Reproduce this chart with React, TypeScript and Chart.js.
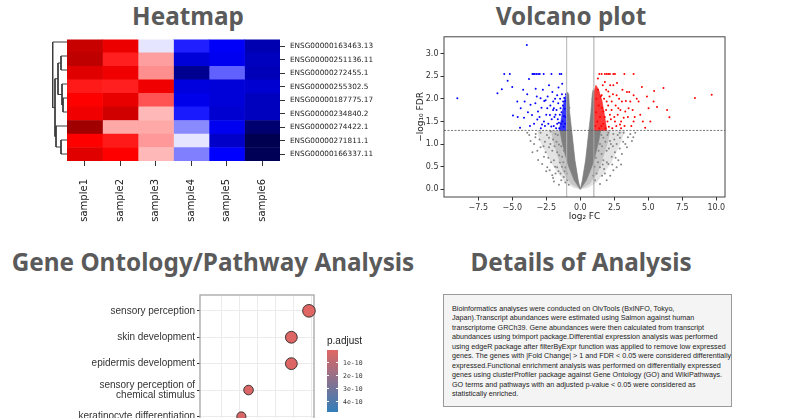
import React, { useEffect, useRef } from "react";
import { Chart, registerables } from "chart.js";
Chart.register(...registerables);

// ---------------- Heatmap data ----------------
const samples = ["sample1", "sample2", "sample3", "sample4", "sample5", "sample6"];
const genes = [
  "ENSG00000163463.13",
  "ENSG00000251136.11",
  "ENSG00000272455.1",
  "ENSG00000255302.5",
  "ENSG00000187775.17",
  "ENSG00000234840.2",
  "ENSG00000274422.1",
  "ENSG00000271811.1",
  "ENSG00000166337.11",
];
const heatValues = [
  [0.72, 0.57, -0.05, -0.44, -0.52, -0.72],
  [0.75, 0.44, 0.19, -0.61, -0.54, -0.68],
  [0.62, 0.56, 0.22, -0.81, -0.31, -0.7],
  [0.45, 0.44, 0.56, -0.59, -0.61, -0.63],
  [0.5, 0.59, 0.34, -0.56, -0.61, -0.68],
  [0.56, 0.68, 0.14, -0.45, -0.63, -0.68],
  [0.87, 0.17, 0.17, -0.23, -0.54, -0.9],
  [0.5, 0.45, 0.2, -0.05, -0.65, -0.99],
  [0.62, 0.5, 0.14, -0.25, -0.5, -0.97],
];
// dendrogram linkage: [childA, childB, height]; leaves 0..8, merges numbered from 9
const linkage = [
  [7, 8, 6],
  [4, 5, 4],
  [1, 2, 6],
  [3, 10, 5],
  [11, 12, 9],
  [6, 9, 11],
  [13, 14, 12],
  [0, 15, 14.3],
];

// ---------------- Volcano data ----------------
const volcanoXTicks = [-7.5, -5, -2.5, 0, 2.5, 5, 7.5, 10];
const volcanoYTicks = [0, 0.5, 1, 1.5, 2, 2.5, 3];
const fcThreshold = 1;
const fdrThreshold = 1.301;
const volcanoGrayCoreLeft = [
  [0, 0], [-0.45, 0.2], [-0.85, 0.5], [-1.1, 0.75], [-1.35, 1.05], [-1.5, 1.3], [-1.0, 1.3], [-1.0, 2.05],
  [-0.95, 2.15], [-0.85, 2.1], [-0.78, 1.7], [-0.63, 1.3], [-0.39, 0.64], [-0.15, 0.2], [0, 0],
];
const volcanoGrayCoreRight = [
  [0, 0], [0.15, 0.2], [0.39, 0.64], [0.63, 1.3], [0.78, 1.7], [0.88, 2.1], [0.95, 2.2], [1.0, 2.1],
  [1.0, 1.3], [1.5, 1.3], [1.35, 1.05], [1.1, 0.75], [0.85, 0.5], [0.45, 0.2], [0, 0],
];
const volcanoGrayHaloLeft = [
  [0, 0], [-0.5, 0.03], [-1.1, 0.15], [-1.7, 0.38], [-2.2, 0.62], [-2.6, 0.85], [-2.95, 1.05], [-3.2, 1.3],
  [-0.63, 1.3], [-0.39, 0.64], [-0.15, 0.2], [0, 0],
];
const volcanoGrayHaloRight = [
  [0, 0], [0.15, 0.2], [0.39, 0.64], [0.63, 1.3], [3.3, 1.3], [3.0, 1.05], [2.7, 0.85], [2.35, 0.62],
  [1.8, 0.38], [1.2, 0.15], [0.55, 0.03], [0, 0],
];
const volcanoGrayInnerHaloLeft = [
  [0, 0], [-0.7, 0.12], [-1.3, 0.4], [-1.75, 0.8], [-2.0, 1.05], [-2.15, 1.3], [-0.63, 1.3], [-0.39, 0.64],
  [-0.15, 0.2], [0, 0],
];
const volcanoGrayInnerHaloRight = [
  [0, 0], [0.15, 0.2], [0.39, 0.64], [0.63, 1.3], [2.2, 1.3], [2.05, 1.05], [1.8, 0.8], [1.35, 0.4],
  [0.7, 0.12], [0, 0],
];
const volcanoBlueCore = [[-1.0, 1.3], [-1.0, 2.1], [-1.1, 2.05], [-1.25, 1.85], [-1.4, 1.55], [-1.55, 1.3], [-1.0, 1.3]];
const volcanoRedCore = [[1.0, 1.3], [1.0, 2.15], [1.15, 2.3], [1.35, 2.2], [1.6, 1.95], [1.8, 1.6], [1.95, 1.3], [1.0, 1.3]];
const volcanoGray = [
  [-3.9, 1.25], [-3.66, 1.07], [-3.28, 1.22], [-2.67, 0.72], [-2.92, 0.93], [-2.3, 1.14], [-2.06, 0.85], [-1.94, 0.64],
  [-1.7, 0.49], [-1.57, 0.99], [-1.45, 0.35], [-1.21, 0.27], [-0.96, 0.2], [-1.82, 0.35], [-2.43, 0.49], [-2.06, 0.31],
  [-2.8, 0.56], [-2.55, 0.82], [-3.16, 0.85], [-1.7, 0.82], [-1.33, 0.72], [-1.21, 0.85], [-1.82, 1.22], [-1.33, 1.14],
  [-2.18, 1.28], [-2.92, 1.25], [-3.4, 1.0], [-3.52, 0.82], [-2.3, 0.93], [-1.5, 0.59], [-1.09, 0.48], [-1.57, 0.1],
  [-1.94, 0.17], [-3.0, 1.1], [-2.6, 1.05], [-2.45, 1.2], [-2.2, 1.0], [-2.0, 1.1], [-1.9, 0.95], [-1.75, 1.05],
  [-1.65, 1.2], [-1.55, 0.75], [-1.4, 0.95], [-1.35, 0.5], [-1.25, 0.6], [-1.15, 0.4], [-1.0, 0.35], [-2.15, 0.6],
  [-2.35, 0.7], [-1.85, 0.5], [-1.6, 0.4], [-1.4, 0.2], [-1.1, 0.15], [-0.85, 0.1], [-2.7, 0.95], [-3.3, 1.15],
  [-3.75, 1.2], [-2.5, 0.4], [-2.0, 0.25], [-3.1, 0.65], [-2.25, 0.42],
  [1.45, 0.49], [1.7, 0.64], [1.94, 0.85], [2.18, 1.07], [2.43, 1.22], [2.67, 1.0], [2.92, 1.14], [3.19, 1.25],
  [3.43, 0.93], [3.8, 1.07], [4.04, 1.25], [1.81, 0.35], [2.06, 0.56], [1.57, 0.78], [2.31, 0.72], [2.55, 0.82],
  [2.8, 0.64], [1.45, 1.0], [1.2, 0.35], [1.08, 0.2], [1.7, 1.14], [2.06, 1.25], [3.31, 1.0], [3.06, 0.78],
  [3.68, 1.22], [2.43, 0.42], [2.67, 0.49], [1.94, 0.2], [1.45, 0.12], [1.3, 0.6], [1.35, 0.85], [1.55, 1.2],
  [1.6, 0.95], [1.85, 1.05], [2.0, 1.2], [2.1, 0.9], [2.25, 1.0], [2.35, 0.55], [2.5, 1.1], [2.6, 0.7],
  [2.75, 1.2], [2.9, 0.9], [3.0, 0.55], [3.15, 1.05], [3.5, 1.15], [1.25, 1.0], [1.15, 0.7], [1.05, 0.5],
  [0.95, 0.3], [1.6, 0.3], [2.2, 0.3], [1.75, 0.45], [2.9, 1.25], [3.9, 1.15], [2.4, 0.95], [1.95, 0.6], [1.65, 0.55],
  [-0.9, 1.5], [-0.8, 1.8], [0.85, 1.7], [0.9, 2.0], [-0.95, 2.05],
];
const volcanoBlue = [
  [-9.04, 2.01], [-6.09, 2.12], [-5.77, 2.21], [-5.59, 2.55], [-5.34, 2.4], [-5.18, 2.55], [-5.0, 2.26], [-4.95, 1.63],
  [-4.63, 1.94], [-4.43, 1.36], [-4.38, 1.79], [-4.14, 1.58], [-4.09, 1.94], [-3.9, 2.1], [-3.77, 2.44], [-3.66, 1.87],
  [-3.55, 1.64], [-3.52, 2.55], [-3.42, 2.55], [-3.35, 2.55], [-3.28, 2.22], [-3.23, 2.55], [-3.16, 1.54], [-3.11, 1.72],
  [-3.1, 2.55], [-2.98, 2.55], [-2.92, 2.01], [-2.81, 1.43], [-2.69, 2.55], [-2.67, 1.5], [-2.55, 1.97], [-2.43, 1.79],
  [-2.3, 2.3], [-2.23, 1.64], [-2.13, 1.39], [-2.12, 2.55], [-1.99, 1.94], [-1.94, 1.79], [-1.82, 1.65], [-1.7, 2.08],
  [-1.57, 1.47], [-1.51, 2.55], [-1.45, 1.79], [-1.39, 2.55], [-1.33, 2.33], [-1.26, 1.94], [-3.93, 3.19],
  [-3.4, 1.45], [-3.3, 1.9], [-3.0, 1.6], [-2.9, 1.35], [-2.85, 1.8], [-2.75, 2.2], [-2.6, 1.4], [-2.5, 1.65],
  [-2.4, 2.05], [-2.35, 1.45], [-2.2, 1.85], [-2.1, 1.55], [-2.05, 2.15], [-1.95, 1.4], [-1.9, 1.6], [-1.85, 2.0],
  [-1.78, 1.35], [-1.75, 1.75], [-1.65, 1.55], [-1.62, 1.9], [-1.6, 2.25], [-1.55, 1.35], [-1.5, 1.65], [-1.48, 2.0],
  [-1.42, 1.45], [-1.38, 1.7], [-1.35, 2.1], [-1.3, 1.5], [-1.28, 1.85], [-1.22, 1.38], [-1.2, 1.62], [-1.18, 2.02],
  [-1.15, 1.78], [-1.12, 1.45], [-1.1, 1.95], [-1.08, 1.6], [-1.05, 2.1], [-3.7, 1.4], [-3.85, 1.7], [-4.2, 2.2],
  [-4.6, 1.6], [-2.65, 1.95], [-3.2, 2.05], [-1.7, 1.45], [-2.0, 1.75],
];
const volcanoRed = [
  [1.4, 2.55], [1.57, 2.55], [1.81, 2.55], [1.94, 2.55], [2.06, 2.55], [2.18, 2.55], [2.43, 2.55], [2.55, 2.55],
  [3.24, 2.55], [3.92, 2.55], [8.43, 2.02], [9.66, 2.09], [6.55, 1.59], [6.12, 2.24], [5.43, 2.17], [5.02, 1.79],
  [5.64, 1.82], [6.38, 1.75], [4.77, 1.36], [4.53, 2.26], [3.92, 2.08], [4.29, 1.94], [3.43, 2.15], [3.68, 1.94],
  [3.19, 1.58], [2.8, 1.79], [2.67, 2.08], [2.43, 2.3], [2.18, 1.65], [1.94, 1.94], [1.81, 2.37], [2.92, 1.43],
  [3.92, 1.5], [4.41, 1.65], [5.39, 1.94], [5.15, 1.5], [3.55, 1.79], [2.55, 1.5], [2.31, 1.94], [2.06, 2.16],
  [1.7, 1.72], [1.57, 2.08], [3.31, 1.72], [3.06, 1.94], [1.1, 1.4], [1.15, 1.7], [1.2, 2.0], [1.25, 1.5],
  [1.3, 2.2], [1.35, 1.85], [1.4, 1.35], [1.45, 1.6], [1.5, 2.05], [1.55, 1.4], [1.6, 1.8], [1.65, 2.3],
  [1.7, 1.45], [1.75, 2.0], [1.8, 1.6], [1.85, 1.35], [1.9, 1.75], [2.0, 1.5], [2.05, 1.85], [2.1, 1.38],
  [2.15, 2.05], [2.25, 1.55], [2.3, 1.75], [2.35, 1.35], [2.4, 2.1], [2.5, 1.6], [2.6, 1.85], [2.65, 1.4],
  [2.75, 1.65], [2.85, 2.0], [2.95, 1.75], [3.0, 1.5], [3.1, 2.2], [3.25, 1.4], [3.35, 1.95], [3.5, 1.6],
  [3.6, 2.15], [3.75, 1.4], [3.85, 1.75], [4.0, 1.6], [4.15, 2.0], [4.6, 1.5], [4.9, 2.05], [2.2, 2.3],
  [1.9, 2.2], [2.7, 2.35], [3.0, 1.35], [1.3, 2.45],
];

// ---------------- GO dot plot data ----------------
const goTerms = [
  "sensory perception",
  "skin development",
  "epidermis development",
  "sensory perception of\nchemical stimulus",
  "keratinocyte differentiation",
];
const goGeneRatio = [0.0392, 0.0343, 0.0343, 0.0224, 0.0204];
const goCount = [40, 35, 35, 23, 21];
const goPAdjust = [2e-12, 8e-12, 8e-12, 1.6e-11, 2.4e-11];
const goGridTicks = [0.015, 0.02, 0.025, 0.03, 0.035, 0.04];
const pAdjustLegendTicks = [1e-10, 2e-10, 3e-10, 4e-10];
const pAdjustLegendLabels = ["1e-10", "2e-10", "3e-10", "4e-10"];
const pAdjustMax = 4.77e-10;

// ---------------- Details text ----------------
const detailLines = [
  "Bioinformatics analyses were conducted on OlvTools (BxINFO, Tokyo,",
  "Japan).Transcript abundances were estimated using Salmon against human",
  "transcriptome GRCh39. Gene abundances were then calculated from transcript",
  "abundances using tximport package.Differential expression analysis was performed",
  "using edgeR package after filterByExpr function was applied to remove low expressed",
  "genes. The genes with |Fold Change| > 1 and FDR < 0.05 were considered differentially",
  "expressed.Functional enrichment analysis was performed on differentially expressed",
  "genes using clusterProfiler package against Gene Ontology (GO) and WikiPathways.",
  "GO terms and pathways with an adjusted p-value < 0.05 were considered as",
  "statistically enriched.",
];

const titles = [
  { text: "Heatmap", cx: 188, top: -1.5 },
  { text: "Volcano plot", cx: 571, top: -1.5 },
  { text: "Gene Ontology/Pathway Analysis", cx: 213, top: 245 },
  { text: "Details of Analysis", cx: 581, top: 245 },
];

// ---------------- helpers ----------------
function seismic(v: number) {
  const t = Math.max(0, Math.min(1, (v + 1) / 2));
  const stops = [
    [0, 0, 0, 0.3],
    [0.25, 0, 0, 1],
    [0.5, 1, 1, 1],
    [0.75, 1, 0, 0],
    [1, 0.5, 0, 0],
  ];
  for (let i = 0; i < stops.length - 1; i++) {
    const a = stops[i], b = stops[i + 1];
    if (t <= b[0]) {
      const f = (t - a[0]) / (b[0] - a[0]);
      const c = [1, 2, 3].map((k) => Math.round(255 * (a[k] + (b[k] - a[k]) * f)));
      return `rgb(${c[0]},${c[1]},${c[2]})`;
    }
  }
  return "rgb(128,0,0)";
}
function hexMix(c1: string, c2: string, f: number) {
  const p = (c: string) => [1, 3, 5].map((i) => parseInt(c.slice(i, i + 2), 16));
  const a = p(c1), b = p(c2);
  const m = a.map((x, i) => Math.round(x + (b[i] - x) * f));
  return `rgb(${m[0]},${m[1]},${m[2]})`;
}
const P_LOW = "#e06663";
const P_HIGH = "#327eba";
const pts = (arr: number[][]) => arr.map(([x, y]) => ({ x, y }));
const fmtTick = (v: number) => (v < 0 ? "\u2212" + Math.abs(v).toFixed(1) : v.toFixed(1));

function strokeFrame(chart: any, opts: any) {
  const a = chart.chartArea;
  const ctx = chart.ctx;
  ctx.save();
  ctx.strokeStyle = opts.color;
  ctx.lineWidth = opts.width || 1;
  ctx.strokeRect(a.left, a.top, a.right - a.left, a.bottom - a.top);
  ctx.restore();
}
const framePlugin = {
  id: "frame",
  beforeDatasetsDraw(chart: any, _args: any, opts: any) {
    if (opts && opts.color && !opts.after) strokeFrame(chart, opts);
  },
  afterDatasetsDraw(chart: any, _args: any, opts: any) {
    if (opts && opts.color && opts.after) strokeFrame(chart, opts);
  },
};

const DV = "'DejaVu Sans', sans-serif";
const LS = "'Liberation Sans', Arial, sans-serif";

export default function App() {
  const heatRef = useRef<HTMLCanvasElement>(null);
  const dendRef = useRef<HTMLCanvasElement>(null);
  const volRef = useRef<HTMLCanvasElement>(null);
  const goRef = useRef<HTMLCanvasElement>(null);

  useEffect(() => {
    const charts: Chart[] = [];

    // ---- Heatmap (stacked horizontal bars, one segment per cell) ----
    charts.push(
      new Chart(heatRef.current!, {
        type: "bar",
        data: {
          labels: genes,
          datasets: samples.map((s, j) => ({
            label: s,
            data: genes.map(() => 1),
            backgroundColor: genes.map((_, i) => seismic(heatValues[i][j])),
            borderWidth: 0,
            barPercentage: 1,
            categoryPercentage: 1,
          })),
        },
        options: {
          animation: false,
          responsive: false,
          indexAxis: "y",
          layout: { padding: { left: 7, top: 5, right: 0, bottom: 0 } },
          plugins: { legend: { display: false }, tooltip: { enabled: false } },
          scales: {
            x: {
              type: "linear",
              stacked: true,
              min: 0,
              max: samples.length,
              position: "bottom",
              afterBuildTicks: (s: any) => {
                s.ticks = samples.map((_, i) => ({ value: i + 0.5 }));
              },
              afterFit: (s: any) => {
                s.height = 69;
              },
              ticks: {
                autoSkip: false,
                minRotation: 90,
                maxRotation: 90,
                padding: 13,
                color: "#222",
                font: { family: DV, size: 10 },
                callback: (_v: any, i: number) => samples[i],
              },
              grid: { drawOnChartArea: false, tickLength: 5, color: "#333" },
              border: { display: false },
            },
            y: {
              type: "category",
              stacked: true,
              position: "right",
              afterFit: (s: any) => {
                s.width = 120;
              },
              ticks: { padding: 5, color: "#222", font: { family: DV, size: 7.3 } },
              grid: { drawOnChartArea: false, tickLength: 5, color: "#333", offset: false },
              border: { display: false },
            },
          },
        },
      } as any)
    );

    // ---- Dendrogram ----
    const pos: number[] = genes.map((_, i) => i);
    const hgt: number[] = genes.map(() => 0);
    const dendSets: any[] = [];
    linkage.forEach(([a, b, h]) => {
      dendSets.push({
        data: [
          { x: hgt[a], y: pos[a] },
          { x: h, y: pos[a] },
          { x: h, y: pos[b] },
          { x: hgt[b], y: pos[b] },
        ],
        showLine: true,
        borderColor: "#3a3a3a",
        borderWidth: 1,
        pointRadius: 0,
        clip: false,
      });
      pos.push((pos[a] + pos[b]) / 2);
      hgt.push(h);
    });
    charts.push(
      new Chart(dendRef.current!, {
        type: "scatter",
        data: { datasets: dendSets },
        options: {
          animation: false,
          responsive: false,
          layout: { padding: 0 },
          plugins: { legend: { display: false }, tooltip: { enabled: false } },
          scales: {
            x: { type: "linear", display: false, reverse: true, min: 0, max: 19 },
            y: { type: "linear", display: false, reverse: true, min: -0.5, max: genes.length - 0.5 },
          },
        },
      } as any)
    );

    // ---- Volcano ----
    const xMin = -10.02, xMax = 10.64, yMin = -0.17, yMax = 3.37;
    const poly = (arr: number[][], color: string, order: number, bw = 0.6) => ({
      type: "line",
      data: pts(arr),
      fill: "shape",
      backgroundColor: color,
      borderColor: color,
      borderWidth: bw,
      pointRadius: 0,
      tension: 0,
      order,
    });
    const scat = (arr: number[][], color: string, order: number) => ({
      type: "scatter",
      data: pts(arr),
      backgroundColor: color,
      borderWidth: 0,
      pointRadius: 1,
      order,
    });
    charts.push(
      new Chart(volRef.current!, {
        type: "scatter",
        data: {
          datasets: [
            {
              type: "line",
              data: [{ x: xMin, y: fdrThreshold }, { x: xMax, y: fdrThreshold }],
              borderColor: "#555",
              borderWidth: 0.8,
              borderDash: [2, 1.5],
              pointRadius: 0,
              order: 0,
            },
            {
              type: "line",
              data: [{ x: -fcThreshold, y: yMin }, { x: -fcThreshold, y: yMax }],
              borderColor: "#b5b5b5",
              borderWidth: 1,
              pointRadius: 0,
              order: 1,
            },
            {
              type: "line",
              data: [{ x: fcThreshold, y: yMin }, { x: fcThreshold, y: yMax }],
              borderColor: "#a5a5a5",
              borderWidth: 1,
              pointRadius: 0,
              order: 1,
            },
            scat(volcanoBlue, "#0000ff", 2),
            scat(volcanoRed, "#ff0000", 2),
            poly(volcanoBlueCore, "rgba(20,20,255,0.85)", 3),
            poly(volcanoRedCore, "rgba(255,20,20,0.85)", 3),
            scat(volcanoGray, "#858585", 4),
            poly(volcanoGrayCoreLeft, "#7f7f7f", 5),
            poly(volcanoGrayCoreRight, "#7f7f7f", 5),
            poly(volcanoGrayInnerHaloLeft, "rgba(128,128,128,0.3)", 6, 0),
            poly(volcanoGrayInnerHaloRight, "rgba(128,128,128,0.3)", 6, 0),
            poly(volcanoGrayHaloLeft, "rgba(128,128,128,0.22)", 7, 0),
            poly(volcanoGrayHaloRight, "rgba(128,128,128,0.22)", 7, 0),
          ],
        },
        options: {
          animation: false,
          responsive: false,
          layout: { padding: { top: 4, right: 35, left: 0, bottom: 0 } },
          plugins: { legend: { display: false }, tooltip: { enabled: false }, frame: { color: "#444", width: 1, after: true } },
          scales: {
            x: {
              type: "linear",
              min: xMin,
              max: xMax,
              afterBuildTicks: (s: any) => {
                s.ticks = volcanoXTicks.map((v) => ({ value: v }));
              },
              afterFit: (s: any) => {
                s.height = 25;
              },
              ticks: { autoSkip: false, maxRotation: 0, padding: 2.5, color: "#333", font: { family: DV, size: 8 }, callback: (v: any) => fmtTick(Number(v)) },
              grid: { drawOnChartArea: false, tickLength: 3.5, color: "#333" },
              border: { display: false },
              title: { display: true, text: "log\u2082 FC", color: "#222", font: { family: DV, size: 9 }, padding: { top: 2, bottom: 0 } },
            },
            y: {
              type: "linear",
              min: yMin,
              max: yMax,
              afterBuildTicks: (s: any) => {
                s.ticks = volcanoYTicks.map((v) => ({ value: v }));
              },
              afterFit: (s: any) => {
                s.width = 44;
              },
              ticks: { autoSkip: false, padding: 2, color: "#333", font: { family: DV, size: 8 }, callback: (v: any) => fmtTick(Number(v)) },
              grid: { drawOnChartArea: false, tickLength: 3.5, color: "#333" },
              border: { display: false },
              title: { display: true, text: "\u2212log\u2081\u2080 FDR", color: "#222", font: { family: DV, size: 9 }, padding: { top: 15, bottom: 0 } },
            },
          },
        },
        plugins: [framePlugin],
      } as any)
    );

    // ---- GO dot plot ----
    charts.push(
      new Chart(goRef.current!, {
        type: "bubble",
        data: {
          datasets: [
            {
              data: goTerms.map((_, i) => ({ x: goGeneRatio[i], y: i, r: Math.sqrt(goCount[i]) })),
              backgroundColor: goPAdjust.map((p) => hexMix(P_LOW, P_HIGH, p / pAdjustMax)),
              borderColor: "#2a2a2a",
              borderWidth: 0.9,
              clip: false,
            },
          ],
        },
        options: {
          animation: false,
          responsive: false,
          layout: { padding: { top: 10, right: 86, left: 0, bottom: 0 } },
          plugins: { legend: { display: false }, tooltip: { enabled: false }, frame: { color: "#ababab", width: 1.4 } },
          scales: {
            x: {
              type: "linear",
              min: 0.0089,
              max: 0.0406,
              afterBuildTicks: (s: any) => {
                s.ticks = goGridTicks.map((v) => ({ value: v }));
              },
              afterFit: (s: any) => {
                s.height = 0;
              },
              ticks: { display: false },
              grid: { color: "#ebebeb", lineWidth: 1, drawTicks: false },
              border: { display: false },
            },
            y: {
              type: "linear",
              reverse: true,
              min: -0.6,
              max: 5.3,
              afterBuildTicks: (s: any) => {
                s.ticks = goTerms.map((_, i) => ({ value: i }));
              },
              afterFit: (s: any) => {
                s.width = 200;
              },
              ticks: {
                autoSkip: false,
                padding: 2,
                color: "#333",
                font: { family: LS, size: 10, lineHeight: 0.95 },
                callback: (v: any) => {
                  const t = goTerms[Math.round(Number(v))];
                  return t ? t.split("\n") : "";
                },
              },
              grid: { color: "#ebebeb", lineWidth: 1, tickLength: 3, tickColor: "#333" },
              border: { display: false },
            },
          },
        },
        plugins: [framePlugin],
      } as any)
    );

    return () => charts.forEach((c) => c.destroy());
  }, []);

  const abs = (l: number, t: number, w: number, h: number): React.CSSProperties => ({
    position: "absolute",
    left: l,
    top: t,
    width: w,
    height: h,
  });

  const barTop = 350, barH = 62;

  return (
    <div style={{ position: "absolute", left: 0, top: 0, width: 800, height: 418, overflow: "hidden", background: "#fff" }}>
      {titles.map((t) => (
        <div
          key={t.text}
          style={{
            position: "absolute",
            left: t.cx - 250,
            width: 500,
            top: t.top,
            textAlign: "center",
            fontFamily: "'Noto Sans', 'DejaVu Sans', sans-serif",
            fontWeight: 700,
            fontSize: 24.3,
            lineHeight: "34px",
            color: "#5a5a5a",
            whiteSpace: "nowrap",
          }}
        >
          {t.text}
        </div>
      ))}
      <canvas ref={dendRef} width={19} height={126} style={abs(48, 35, 19, 126)} />
      <canvas ref={heatRef} width={340} height={200} style={abs(60, 30, 340, 200)} />
      <canvas ref={volRef} width={360} height={192} style={abs(400, 30, 360, 192)} />
      <canvas ref={goRef} width={400} height={173} style={abs(0, 285, 400, 173)} />

      {/* p.adjust colour legend */}
      <div style={{ position: "absolute", left: 327, top: 335, fontFamily: LS, fontSize: 10, color: "#222" }}>p.adjust</div>
      <div
        style={{
          ...abs(327, barTop, 11, barH),
          background: `linear-gradient(to bottom, ${P_LOW}, ${P_HIGH})`,
        }}
      />
      {pAdjustLegendTicks.map((v, i) => {
        const y = barTop + (v / pAdjustMax) * barH;
        return (
          <React.Fragment key={i}>
            <div style={{ ...abs(327, y - 0.5, 2, 1), background: "#fff" }} />
            <div style={{ ...abs(336, y - 0.5, 2, 1), background: "#fff" }} />
            <div style={{ position: "absolute", left: 343, top: y - 5, fontFamily: "'DejaVu Sans Mono', monospace", fontSize: 6.5, lineHeight: "10px", color: "#333" }}>
              {pAdjustLegendLabels[i]}
            </div>
          </React.Fragment>
        );
      })}

      {/* Details box */}
      <div
        style={{
          ...abs(443, 294, 289, 113),
          boxSizing: "border-box",
          background: "#f4f4f4",
          border: "1px solid #9a9a9a",
          padding: "8.5px 0 0 8px",
          fontFamily: LS,
          fontSize: 7.2,
          lineHeight: "9.5px",
          color: "#222",
        }}
      >
        {detailLines.map((l, i) => (
          <div key={i} style={{ whiteSpace: "nowrap" }}>
            {l}
          </div>
        ))}
      </div>
    </div>
  );
}
